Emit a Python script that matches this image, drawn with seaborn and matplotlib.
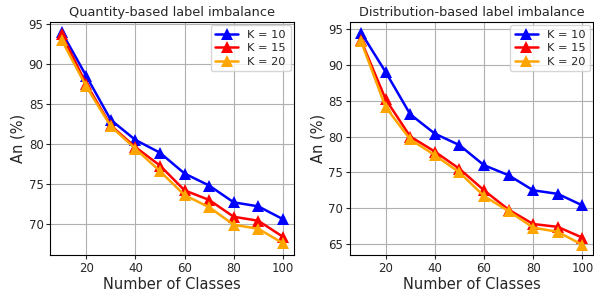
import pandas as pd
import matplotlib
matplotlib.use("Agg")
import matplotlib.pyplot as plt
import seaborn as sns

# number of classes on x axis
classes = [10, 20, 30, 40, 50, 60, 70, 80, 90, 100]

# Quantity-based label imbalance
qty_k10 = [94.0, 88.5, 83.0, 80.5, 78.9, 76.3, 74.8, 72.7, 72.2, 70.6]
qty_k15 = [93.7, 87.5, 82.3, 79.6, 77.3, 74.2, 73.0, 70.9, 70.4, 68.4]
qty_k20 = [93.0, 87.2, 82.2, 79.4, 76.6, 73.6, 72.1, 69.9, 69.4, 67.6]

# Distribution-based label imbalance
dist_k10 = [94.5, 89.0, 83.1, 80.4, 78.8, 76.0, 74.6, 72.5, 72.0, 70.4]
dist_k15 = [93.4, 85.2, 80.0, 77.9, 75.5, 72.5, 69.8, 67.8, 67.4, 65.9]
dist_k20 = [93.3, 84.1, 79.6, 77.4, 75.0, 71.7, 69.6, 67.3, 66.7, 64.9]

labels = ['K = 10', 'K = 15', 'K = 20']
colors = ['blue', 'red', 'orange']


def to_long(series):
    # build a long table for seaborn
    rows = []
    for lab, vals in zip(labels, series):
        for c, v in zip(classes, vals):
            rows.append({'classes': c, 'an': v, 'K': lab})
    return pd.DataFrame(rows)


sns.set_style('ticks')
plt.rcParams['font.family'] = ['DejaVu Sans']

fig, axes = plt.subplots(1, 2, figsize=(5.94, 2.9), dpi=100)

panels = [
    (axes[0], [qty_k10, qty_k15, qty_k20], 'Quantity-based label imbalance', (66.1, 95.25)),
    (axes[1], [dist_k10, dist_k15, dist_k20], 'Distribution-based label imbalance', (63.45, 96.0)),
]

for ax, series, title, ylim in panels:
    df = to_long(series)
    sns.lineplot(data=df, x='classes', y='an', hue='K', palette=colors,
                 marker='^', markersize=8.5, markeredgewidth=0, linewidth=1.8, ax=ax)
    ax.set_title(title, fontsize=9.3, pad=4)
    ax.set_xlabel('Number of Classes', fontsize=10.5, labelpad=1)
    ax.set_ylabel('An (%)', fontsize=10.5, labelpad=2)
    ax.set_xticks([20, 40, 60, 80, 100])
    ax.set_ylim(*ylim)
    ax.set_xlim(5.5, 104.5)
    ax.tick_params(labelsize=8.5, length=3, pad=2)
    ax.grid(True, color='#b0b0b0', linewidth=0.8)
    for s in ax.spines.values():
        s.set_color('black')
        s.set_linewidth(0.8)
    ax.legend(title=None, fontsize=8.2, loc='upper right', handlelength=2,
              borderaxespad=0.3, labelspacing=0.3)

fig.subplots_adjust(left=0.085, right=0.999, top=0.925, bottom=0.12, wspace=0.23)
fig.savefig('out.png', dpi=100)
